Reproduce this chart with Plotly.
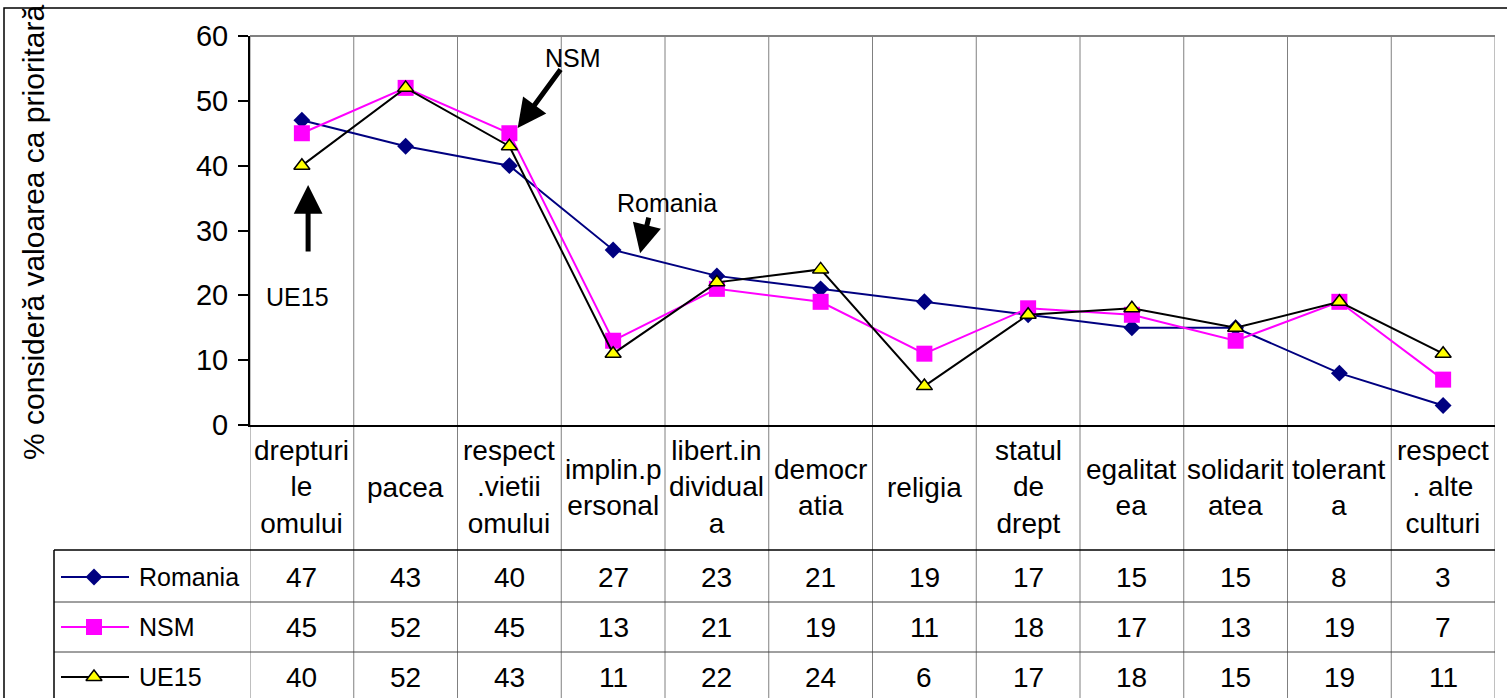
import plotly.graph_objects as go

W, H = 1507, 698
FONT = "Liberation Sans, Arial, sans-serif"

categories = [
    "drepturi<br>le<br>omului", "pacea", "respect<br>.vietii<br>omului",
    "implin.p<br>ersonal", "libert.in<br>dividual<br>a", "democr<br>atia",
    "religia", "statul<br>de<br>drept", "egalitat<br>ea", "solidarit<br>atea",
    "tolerant<br>a", "respect<br>. alte<br>culturi",
]
romania = [47, 43, 40, 27, 23, 21, 19, 17, 15, 15, 8, 3]
nsm = [45, 52, 45, 13, 21, 19, 11, 18, 17, 13, 19, 7]
ue15 = [40, 52, 43, 11, 22, 24, 6, 17, 18, 15, 19, 11]
y_ticks = [0, 10, 20, 30, 40, 50, 60]

series = [
    ("Romania", romania, "#000080", "diamond", 13, "#000080"),
    ("NSM", nsm, "#FF00FF", "square", 16, "#FF00FF"),
    ("UE15", ue15, "#000000", "triangle-up", 14, "#FFFF00"),
]


def px(p):
    return p / W


def py(p):
    return 1 - p / H


# plot area in pixels
L, R, T, B = 250, 1495, 36, 425
row_y = [577, 627, 677]
TXT = 28

fig = go.Figure()
x_idx = list(range(len(categories)))

for r, (name, vals, color, sym, size, fill) in enumerate(series):
    outline = dict(color="#000000", width=1.5) if name == "UE15" else dict(width=0)
    fig.add_trace(go.Scatter(
        x=x_idx, y=vals, mode="lines+markers", name=name,
        line=dict(color=color, width=2),
        marker=dict(symbol=sym, size=size, color=fill, line=outline),
        cliponaxis=False, showlegend=False,
    ))
    # legend key inside the data table
    ry = row_y[r]
    fig.add_trace(go.Scatter(
        x=[61, 129], y=[ry, ry], mode="lines", xaxis="x2", yaxis="y2",
        line=dict(color=color, width=2), showlegend=False, hoverinfo="skip",
    ))
    fig.add_trace(go.Scatter(
        x=[94], y=[ry], mode="markers", xaxis="x2", yaxis="y2",
        marker=dict(symbol=sym, size=size, color=fill, line=outline),
        showlegend=False, hoverinfo="skip",
    ))

annotations = []


def label(**kw):
    kw.setdefault("showarrow", False)
    kw.setdefault("xanchor", "center")
    kw.setdefault("yanchor", "middle")
    annotations.append(kw)


# category labels row
for i, lab in enumerate(categories):
    label(x=i, y=py(487), xref="x", yref="paper", text=lab, font=dict(size=TXT))
# table values + legend names
for r, (name, vals, *_rest) in enumerate(series):
    label(x=px(137), y=py(row_y[r]), xref="paper", yref="paper", text=name,
          xanchor="left", font=dict(size=25))
    for i, v in enumerate(vals):
        label(x=i, y=py(row_y[r]), xref="x", yref="paper", text=str(v),
              font=dict(size=TXT))

# y-axis title
label(x=px(33), y=py(232), xref="paper", yref="paper",
      text="% consideră valoarea ca prioritară", textangle=-90, font=dict(size=30))

# callout labels and arrows
callouts = [
    ("NSM", 2.61, 56.6, 2.08, 45.8, 44, -60),
    ("Romania", 3.52, 34.3, 3.26, 26.5, 9, -37),
    ("UE15", -0.04, 19.7, 0.06, 37.0, 0, 68),
]
for text, tx, ty, hx, hy, ax, ay in callouts:
    label(x=tx, y=ty, xref="x", yref="y", text=text, font=dict(size=25))
    label(x=hx, y=hy, xref="x", yref="y", text="", showarrow=True, arrowhead=2,
          arrowsize=1.15, arrowwidth=5, arrowcolor="#000000", ax=ax, ay=ay)

shapes = []
# vertical grid/table lines at category boundaries
for i in range(len(categories) + 1):
    shapes.append(dict(type="line", xref="x", yref="paper", x0=i - 0.5, x1=i - 0.5,
                       y0=py(T), y1=py(H + 2), line=dict(color="#808080", width=1),
                       layer="below"))
# plot area top border
shapes.append(dict(type="line", xref="paper", yref="paper", x0=px(L), x1=px(R),
                   y0=py(T), y1=py(T), line=dict(color="#808080", width=2)))
# table horizontal lines
shapes.append(dict(type="line", xref="paper", yref="paper", x0=px(54), x1=px(R),
                   y0=py(550), y1=py(550), line=dict(color="#000000", width=1.5)))
for yy in (602, 652):
    shapes.append(dict(type="line", xref="paper", yref="paper", x0=px(54), x1=px(R),
                       y0=py(yy), y1=py(yy), line=dict(color="#404040", width=1)))
# table left border
shapes.append(dict(type="line", xref="paper", yref="paper", x0=px(54), x1=px(54),
                   y0=py(550), y1=py(H + 2), line=dict(color="#000000", width=1.5)))
# outer chart border
shapes.append(dict(type="rect", xref="paper", yref="paper", x0=px(4), x1=px(W + 5),
                   y0=py(8), y1=py(H + 5), line=dict(color="#000000", width=1.5)))

fig.update_layout(
    width=W, height=H,
    margin=dict(l=0, r=0, t=0, b=0, autoexpand=False),
    paper_bgcolor="white", plot_bgcolor="rgba(0,0,0,0)",
    font=dict(family=FONT, color="#000000"),
    xaxis=dict(domain=[px(L), px(R)], range=[-0.5, len(categories) - 0.5],
               showticklabels=False, ticks="", showgrid=False, zeroline=False,
               showline=True, linecolor="#000000", linewidth=2, mirror=False,
               automargin=False),
    yaxis=dict(domain=[py(B), py(T)], range=[0, 60], tickvals=y_ticks,
               ticks="outside", ticklen=10, tickcolor="#000000", tickwidth=1.5,
               showgrid=False, zeroline=False, showline=True, linecolor="#000000",
               linewidth=2, tickfont=dict(size=29), ticklabelstandoff=4,
               automargin=False),
    xaxis2=dict(domain=[0, 1], range=[0, W], visible=False, anchor="y2",
                automargin=False),
    yaxis2=dict(domain=[0, 1], range=[H, 0], visible=False, anchor="x2",
                automargin=False),
    annotations=annotations,
    shapes=shapes,
)

# drop the default page margin so the figure sits at the window's corner
fig.write_html("out.html", config={"displayModeBar": False},
               post_script="document.body.style.margin='0';")
